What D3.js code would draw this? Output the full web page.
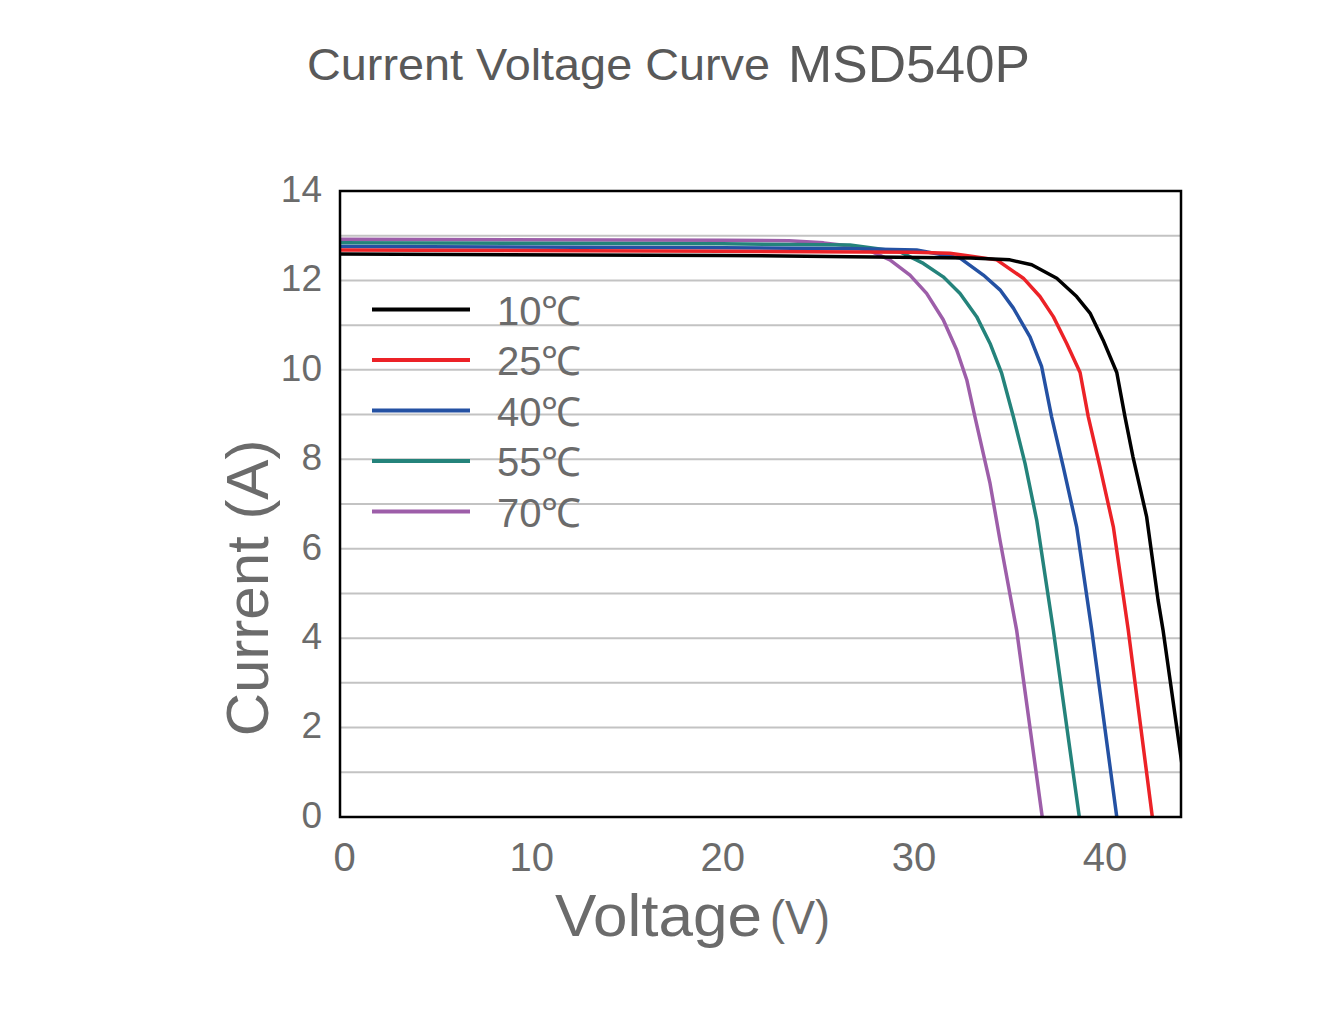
<!DOCTYPE html>
<html><head><meta charset="utf-8">
<script src="https://cdn.jsdelivr.net/npm/d3@7"></script>
<style>body{margin:0;background:#fff}svg{display:block}text{font-family:"Liberation Sans",Arial,sans-serif}</style>
</head><body>
<script>
// ---- data ----
const seriesNames = ["10℃","25℃","40℃","55℃","70℃"];
const seriesColors = ["#000000","#ec2227","#2451a3","#24837b","#9d5ea9"];
const voltage10 = [0,20,26.68,33,35.05,36.19,37.50,38.54,39.24,39.92,40.64,41.07,41.49,42.20,42.80,43.06,44.04,44.40];
const current10 = [12.59,12.56,12.53,12.50,12.46,12.35,12.05,11.64,11.27,10.67,9.94,8.95,8.05,6.72,4.85,4.18,1.21,0];
const voltage25 = [0,20,30,31.91,34.36,35.75,36.62,37.32,38.02,38.72,39.15,39.76,40.46,41.24,42.50];
const current25 = [12.68,12.65,12.63,12.61,12.46,12.05,11.64,11.19,10.59,9.94,8.95,7.83,6.49,4.18,0];
const voltage40 = [0,20,27,30.17,32.44,33.66,34.53,35.23,36.10,36.71,37.23,37.84,38.54,39.33,40.64];
const current40 = [12.76,12.73,12.71,12.68,12.50,12.12,11.79,11.38,10.74,10.07,8.95,7.83,6.49,4.18,0];
const voltage55 = [0,20,26.68,29.30,30.52,31.56,32.44,33.31,34.01,34.62,35.23,35.84,36.45,37.32,38.68];
const current55 = [12.84,12.82,12.79,12.64,12.38,12.08,11.71,11.19,10.59,9.92,8.95,7.91,6.64,4.18,0];
const voltage70 = [0,20,23.5,25.3,26.68,27.73,28.77,29.82,30.69,31.56,32.26,32.79,33.22,34.01,34.53,35.40,36.74];
const current70 = [12.92,12.90,12.89,12.84,12.77,12.66,12.46,12.12,11.71,11.12,10.45,9.78,8.95,7.46,6.19,4.18,0];
const xTicks = [0,10,20,30,40];
const yTicks = [0,2,4,6,8,10,12,14];
const gridValues = [1,2,3,4,5,6,7,8,9,10,11,12,13];

const series = [
  {v:voltage10,i:current10},{v:voltage25,i:current25},{v:voltage40,i:current40},
  {v:voltage55,i:current55},{v:voltage70,i:current70}
].map((s,k)=>({name:seriesNames[k],color:seriesColors[k],pts:s.v.map((v,j)=>[v,s.i[j]])}));

const W=1339,H=1014;
const L=340,R=1181,T=191,B=817;
const svg=d3.select("body").append("svg").attr("width",W).attr("height",H);
const x=d3.scaleLinear().domain([0,44]).range([L,R]);
const y=d3.scaleLinear().domain([0,14]).range([B,T]);
const grey="#6b6b6b";

// title
svg.append("text").attr("x",307).attr("y",80).attr("font-size",44).attr("fill","#595959")
  .attr("textLength",463).attr("lengthAdjust","spacingAndGlyphs").text("Current Voltage Curve");
svg.append("text").attr("x",788).attr("y",82).attr("font-size",52).attr("fill","#595959")
  .attr("textLength",242).attr("lengthAdjust","spacingAndGlyphs").text("MSD540P");

// grid
svg.append("g").selectAll("line").data(gridValues).join("line")
  .attr("x1",L).attr("x2",R).attr("y1",d=>y(d)).attr("y2",d=>y(d))
  .attr("stroke","#c3c3c3").attr("stroke-width",2);

// clip
svg.append("clipPath").attr("id","pc").append("rect").attr("x",L).attr("y",T).attr("width",R-L).attr("height",B-T);

const line=d3.line().x(d=>x(d[0])).y(d=>y(d[1])).curve(d3.curveLinear);
svg.append("g").attr("clip-path","url(#pc)").selectAll("path").data(series.slice().reverse()).join("path")
  .attr("d",d=>line(d.pts)).attr("fill","none").attr("stroke",d=>d.color).attr("stroke-width",3.5)
  .attr("stroke-linejoin","round");

// border
svg.append("rect").attr("x",L).attr("y",T).attr("width",R-L).attr("height",B-T)
  .attr("fill","none").attr("stroke","#000").attr("stroke-width",2.5);

// axes
const ya=svg.append("g").attr("transform",`translate(${L},0)`)
  .call(d3.axisLeft(y).tickValues(yTicks).tickSize(0).tickPadding(18));
ya.select(".domain").remove();
ya.selectAll("text").attr("font-size",37).attr("fill",grey).attr("font-family","Liberation Sans, Arial, sans-serif").attr("dy","0.28em");

const xa=svg.append("g").attr("transform",`translate(0,${B})`)
  .call(d3.axisBottom(x).tickValues(xTicks).tickSize(0).tickPadding(26));
xa.select(".domain").remove();
xa.selectAll("text").attr("font-size",40).attr("fill",grey).attr("font-family","Liberation Sans, Arial, sans-serif")
  .attr("dx",d=>d===0?4:0);

// axis titles
svg.append("text").attr("transform","translate(268,588) rotate(-90)").attr("text-anchor","middle")
  .attr("font-size",60).attr("fill",grey).text("Current (A)");
svg.append("text").attr("x",555).attr("y",936).attr("font-size",60).attr("fill",grey)
  .attr("textLength",207).attr("lengthAdjust","spacingAndGlyphs").text("Voltage");
svg.append("text").attr("x",770).attr("y",934).attr("font-size",48).attr("fill",grey)
  .attr("textLength",60).attr("lengthAdjust","spacingAndGlyphs").text("(V)");

// legend
const lg=svg.append("g").selectAll("g").data(series).join("g")
  .attr("transform",(d,k)=>`translate(0,${309.5+k*50.5})`);
lg.append("line").attr("x1",372).attr("x2",470).attr("stroke",d=>d.color).attr("stroke-width",4);
lg.append("text").attr("x",497).attr("y",15).attr("font-size",40).attr("fill",grey).text(d=>d.name);
</script>
</body></html>
